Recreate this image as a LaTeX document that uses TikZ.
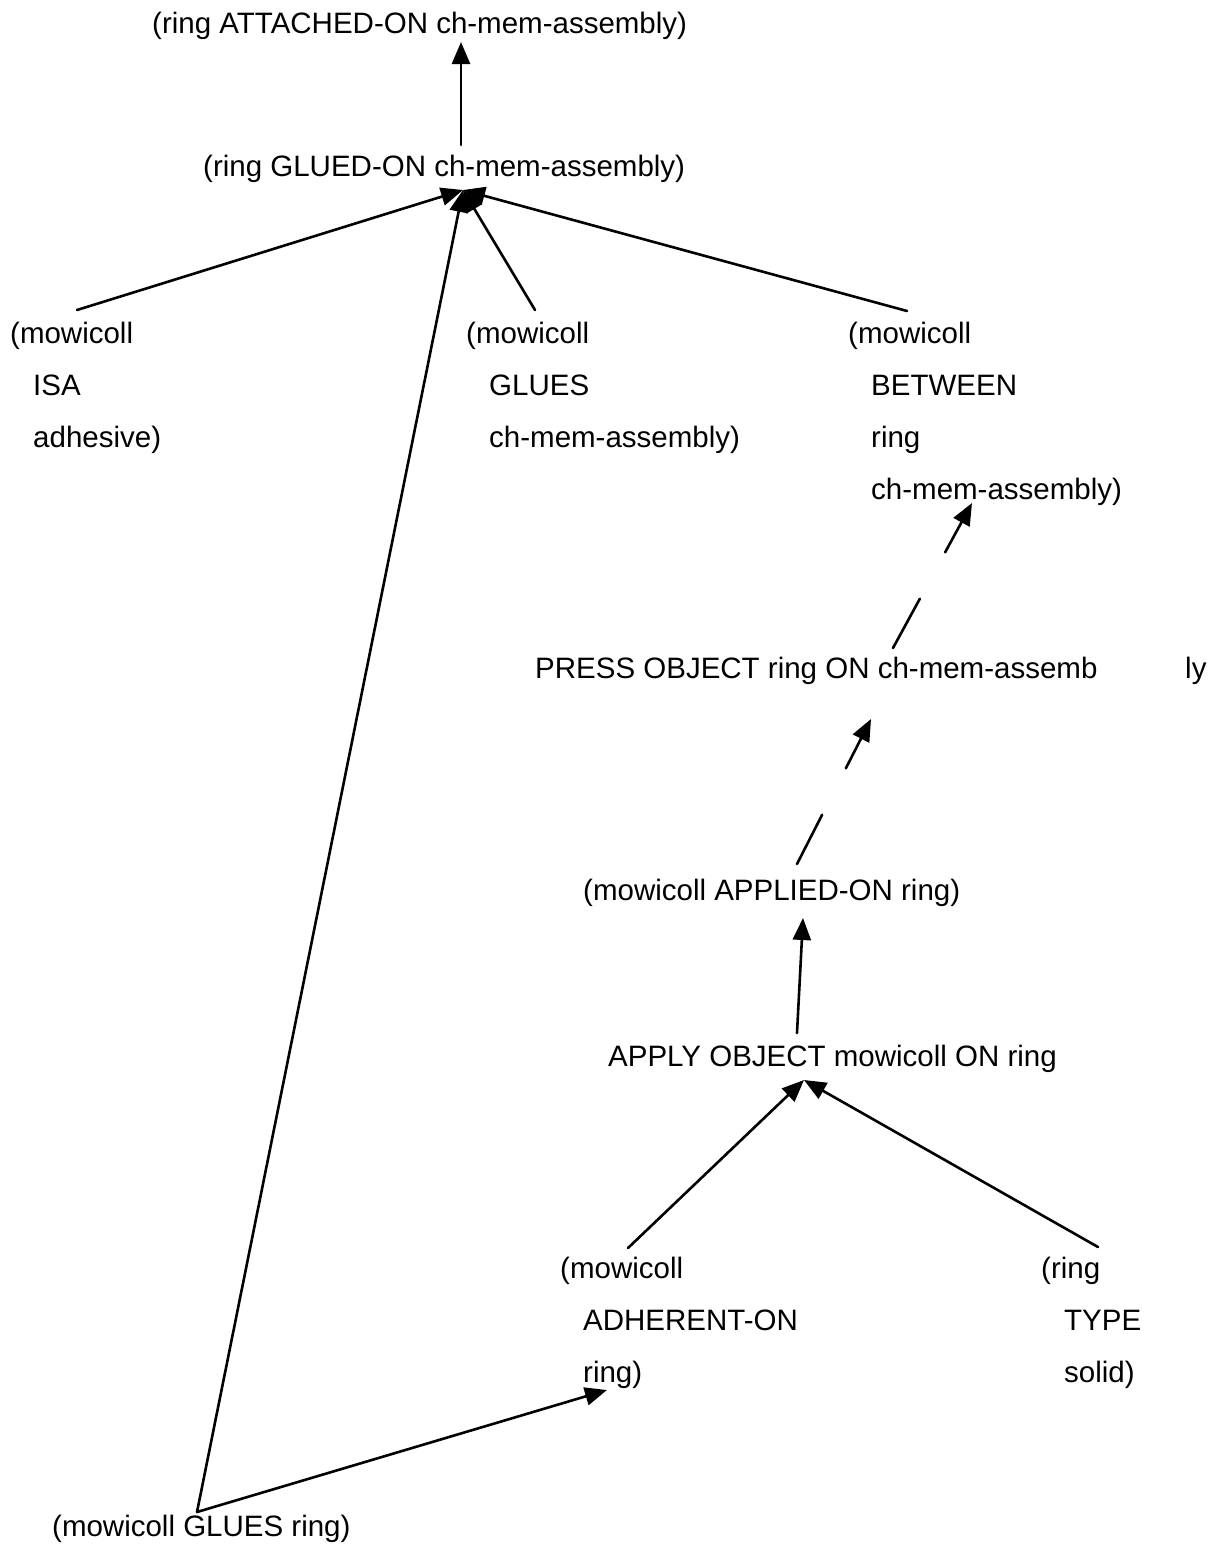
\documentclass[tikz,border=0pt]{standalone}
\usepackage{fontspec}
\setmainfont{Liberation Sans}
\usetikzlibrary{arrows.meta,calc}
\newcommand\subline{\hspace*{23pt}}
\begin{document}
\begin{tikzpicture}[x=1pt,y=-1pt,
  lbl/.style={inner sep=0pt,anchor=base west,font=\fontsize{29.5}{52}\selectfont},
  conn/.style={line width=2.6pt,line cap=round},
  arr/.style={conn,-{Triangle[length=22pt,width=18pt]}}]
\path[use as bounding box] (0,0) rectangle (1209,1564);

% statements
\node[lbl] (attached) at (152,33) {(ring ATTACHED-ON ch-mem-assembly)};
\node[lbl] (glued) at (203,176) {(ring GLUED-ON ch-mem-assembly)};
\node[lbl] (isa) at (10,343) {\begin{tabular}[t]{@{}l@{}}(mowicoll\\\subline ISA\\\subline adhesive)\end{tabular}};
\node[lbl] (gluesch) at (466,343) {\begin{tabular}[t]{@{}l@{}}(mowicoll\\\subline GLUES\\\subline ch-mem-assembly)\end{tabular}};
\node[lbl] (between) at (848,343) {\begin{tabular}[t]{@{}l@{}}(mowicoll\\\subline BETWEEN\\\subline ring\\\subline ch-mem-assembly)\end{tabular}};
\node[lbl] (press) at (535,678) {\rlap{\hspace*{650pt}ly}PRESS OBJECT ring ON ch-mem-assemb};
\node[lbl] (applied) at (583,900) {(mowicoll APPLIED-ON ring)};
\node[lbl] (apply) at (608,1066) {APPLY OBJECT mowicoll ON ring};
\node[lbl] (adherent) at (560,1278) {\begin{tabular}[t]{@{}l@{}}(mowicoll\\\subline ADHERENT-ON\\\subline ring)\end{tabular}};
\node[lbl] (type) at (1041,1278) {\begin{tabular}[t]{@{}l@{}}(ring\\\subline TYPE\\\subline solid)\end{tabular}};
\node[lbl] (gluesring) at (52,1536) {(mowicoll GLUES ring)};

% connection points
\coordinate (attached-in) at ($(attached.base west)+(309,9)$);
\coordinate (glued-in)    at ($(glued.base west)+(260,14)$);
\coordinate (glued-out)   at ($(glued.base west)+(258,-31)$);
\coordinate (isa-out)     at ($(isa.base west)+(67,-33)$);
\coordinate (gluesch-out) at ($(gluesch.base west)+(69,-33)$);
\coordinate (between-out) at ($(between.base west)+(59,-32)$);
\coordinate (between-in)  at ($(between.base west)+(124,160)$);
\coordinate (press-out)   at ($(press.base west)+(358,-30)$);
\coordinate (press-in)    at ($(press.base west)+(336,41)$);
\coordinate (applied-out) at ($(applied.base west)+(214,-36)$);
\coordinate (applied-in)  at ($(applied.base west)+(220,18)$);
\coordinate (apply-out)   at ($(apply.base west)+(189,-33)$);
\coordinate (apply-in)    at ($(apply.base west)+(196,14)$);
\coordinate (adherent-out) at ($(adherent.base west)+(68,-30)$);
\coordinate (adherent-in)  at ($(adherent.base west)+(47,112)$);
\coordinate (type-out)    at ($(type.base west)+(57,-31)$);
\coordinate (gluesring-out) at ($(gluesring.base west)+(145,-24)$);

% support links
\draw[arr] (glued-out) -- (attached-in);
\draw[arr] (isa-out) -- (glued-in);
\draw[arr] (gluesch-out) -- (glued-in);
\draw[arr] (between-out) -- (glued-in);
\draw[arr] (gluesring-out) -- (glued-in);
\draw[arr] (gluesring-out) -- (adherent-in);
\draw[arr] (adherent-out) -- (apply-in);
\draw[arr] (type-out) -- (apply-in);
\draw[arr] (apply-out) -- (applied-in);

% interrupted links
\draw[conn] (applied-out) -- ($(applied-out)!0.34!(press-in)$);
\draw[arr] ($(applied-out)!0.66!(press-in)$) -- (press-in);
\draw[conn] (press-out) -- ($(press-out)!0.34!(between-in)$);
\draw[arr] ($(press-out)!0.66!(between-in)$) -- (between-in);
\end{tikzpicture}
\end{document}
